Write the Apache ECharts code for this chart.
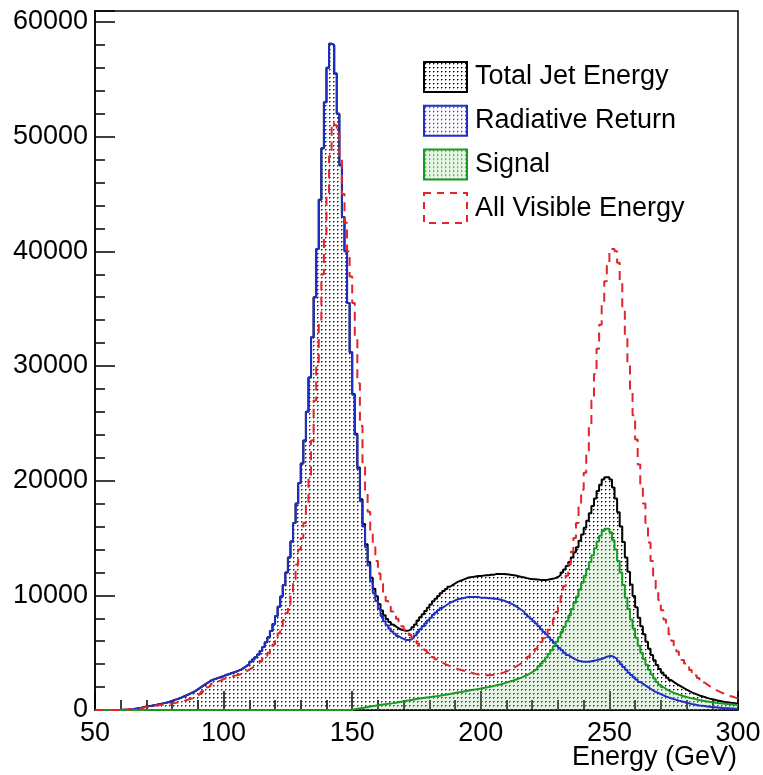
<!DOCTYPE html>
<html>
<head>
<meta charset="utf-8">
<script src="https://cdn.jsdelivr.net/npm/echarts@6/dist/echarts.min.js"></script>
<style>
  html, body { margin: 0; padding: 0; background: #fff; }
  #chart { width: 763px; height: 775px; }
</style>
</head>
<body>
<div id="chart"></div>
<script>
// 1 GeV bins from 50 to 300 GeV
var binLow = 50, binWidth = 1;

var totalJet = [
  0,0,0,0,0,0,0,0,0,0,
  20,30,40,60,80,120,160,200,250,300,
  350,380,420,450,500,550,600,650,720,800,
  880,950,1030,1120,1220,1320,1430,1540,1650,1800,
  1950,2100,2250,2400,2550,2650,2720,2800,2880,2950,
  3050,3120,3200,3280,3360,3450,3550,3700,3850,4000,
  4200,4400,4600,4850,5150,5500,5900,6350,6900,7500,
  8200,9000,9900,10900,12000,13300,14700,16300,18000,19800,
  21500,23500,26000,29000,32500,36000,40200,44500,49000,53000,
  56000,58100,58000,55500,52000,47500,43000,40000,35500,31200,
  27560,24100,21140,18380,16220,14460,12900,11540,10580,9920,
  9250,8680,8260,7940,7670,7450,7290,7130,7020,6960,
  6900,6940,7030,7220,7460,7800,8080,8360,8640,8920,
  9200,9480,9710,9940,10180,10370,10560,10750,10890,11030,
  11170,11260,11350,11440,11530,11570,11610,11650,11690,11680,
  11720,11760,11750,11800,11800,11850,11850,11850,11870,11840,
  11810,11780,11750,11700,11650,11600,11560,11500,11450,11420,
  11400,11380,11350,11330,11330,11360,11400,11450,11500,11600,
  11750,12000,12250,12550,12900,13300,13750,14200,14750,15300,
  15900,16500,17150,17800,18450,19100,19650,20100,20300,20300,
  20100,19400,18450,17250,16000,14650,13300,12050,10950,9950,
  8950,8050,7300,6600,5950,5350,4800,4330,3930,3580,
  3280,3030,2820,2620,2450,2300,2160,2030,1900,1780,
  1660,1540,1450,1360,1270,1200,1130,1060,990,940,
  890,840,790,740,700,670,640,610,580,550
];

var radReturn = [
  0,0,0,0,0,0,0,0,0,0,
  20,30,40,60,80,120,160,200,250,300,
  350,380,420,450,500,550,600,650,720,800,
  880,950,1030,1120,1220,1320,1430,1540,1650,1800,
  1950,2100,2250,2400,2550,2650,2720,2800,2880,2950,
  3050,3120,3200,3280,3360,3450,3550,3700,3850,4000,
  4200,4400,4600,4850,5150,5500,5900,6350,6900,7500,
  8200,9000,9900,10900,12000,13300,14700,16300,18000,19800,
  21500,23500,26000,29000,32500,36000,40200,44500,49000,53000,
  56000,58100,58000,55500,52000,47500,43000,40000,35500,31200,
  27500,24000,21000,18200,16000,14200,12600,11200,10200,9500,
  8800,8200,7750,7400,7100,6850,6650,6450,6300,6200,
  6100,6100,6150,6300,6500,6800,7050,7300,7550,7800,
  8050,8300,8500,8700,8900,9050,9200,9350,9450,9550,
  9650,9700,9750,9800,9850,9850,9850,9850,9850,9800,
  9800,9800,9750,9750,9700,9700,9650,9600,9550,9450,
  9350,9250,9150,9000,8850,8700,8550,8350,8150,7950,
  7750,7550,7300,7050,6800,6600,6350,6100,5850,5600,
  5400,5200,5000,4800,4650,4500,4400,4300,4250,4200,
  4200,4200,4250,4300,4350,4400,4450,4550,4650,4700,
  4700,4600,4450,4250,4000,3750,3500,3250,3050,2850,
  2650,2450,2300,2150,2000,1850,1700,1580,1480,1380,
  1280,1180,1100,1020,950,880,820,760,700,640,
  580,520,480,440,400,370,340,310,280,260,
  240,220,200,180,160,150,140,130,120,110
];

var signal = [
  0,0,0,0,0,0,0,0,0,0,
  0,0,0,0,0,0,0,0,0,0,
  0,0,0,0,0,0,0,0,0,0,
  0,0,0,0,0,0,0,0,0,0,
  0,0,0,0,0,0,0,0,0,0,
  0,0,0,0,0,0,0,0,0,0,
  0,0,0,0,0,0,0,0,0,0,
  0,0,0,0,0,0,0,0,0,0,
  0,0,0,0,0,0,0,0,0,0,
  0,0,0,0,0,0,0,0,0,0,
  60,100,140,180,220,260,300,340,380,420,
  450,480,510,540,570,600,640,680,720,760,
  800,840,880,920,960,1000,1030,1060,1090,1120,
  1150,1180,1210,1240,1280,1320,1360,1400,1440,1480,
  1520,1560,1600,1640,1680,1720,1760,1800,1840,1880,
  1920,1960,2000,2050,2100,2150,2200,2250,2320,2390,
  2460,2530,2600,2680,2760,2850,2950,3050,3170,3300,
  3450,3620,3820,4050,4300,4580,4880,5200,5550,5950,
  6350,6800,7250,7750,8250,8800,9350,9900,10500,11100,
  11700,12300,12900,13500,14100,14700,15200,15600,15800,15800,
  15500,14800,14000,13000,12000,10900,9800,8800,7900,7100,
  6300,5600,5000,4450,3950,3500,3100,2750,2450,2200,
  2000,1850,1720,1600,1500,1420,1340,1270,1200,1140,
  1080,1020,970,920,870,830,790,750,710,680,
  650,620,590,560,540,520,500,480,460,440
];

var allVisible = [
  0,0,0,0,0,0,0,0,0,0,
  20,30,40,60,80,110,140,180,220,260,
  300,330,360,390,420,450,480,510,540,560,
  600,650,700,760,820,890,960,1040,1140,1260,
  1400,1580,1780,1980,2120,2300,2400,2500,2580,2680,
  2780,2840,2900,2960,3020,3080,3140,3250,3380,3520,
  3660,3800,3950,4100,4280,4480,4720,5000,5330,5720,
  6200,6700,7250,7850,8450,9200,10200,11400,12700,14000,
  15000,16300,18000,20500,23500,27000,30000,33800,38000,41500,
  44800,48300,51200,51000,50600,48300,45000,42500,40000,37800,
  35500,32500,28500,24800,21500,19000,17300,15500,14200,13000,
  11900,11000,10200,9500,9000,8600,8250,7950,7600,7300,
  7000,6800,6550,6300,6050,5800,5550,5400,5200,5000,
  4800,4600,4420,4250,4150,4030,3930,3830,3740,3660,
  3580,3510,3450,3390,3330,3270,3210,3150,3100,3070,
  3050,3040,3040,3050,3070,3100,3140,3200,3280,3370,
  3470,3580,3700,3830,3970,4120,4280,4450,4650,4870,
  5100,5350,5620,5920,6250,6600,7000,7450,7950,8550,
  9200,9950,10800,11700,12700,13800,15000,16300,17700,19200,
  20700,22600,24800,27000,29300,31500,33600,35600,37400,39000,
  40000,40200,40000,39000,37300,35000,32700,30000,27800,25700,
  23600,21400,19700,18000,16300,14600,13000,11700,10600,9600,
  8700,7900,7200,6600,6050,5550,5100,4700,4350,4050,
  3750,3480,3230,3000,2780,2580,2400,2230,2080,1940,
  1810,1690,1580,1480,1390,1300,1220,1150,1080,1020
];

var xTicks = [50, 100, 150, 200, 250, 300];
var seriesNames = ['Total Jet Energy', 'Radiative Return', 'Signal', 'All Visible Energy'];

var colBlack = '#000000', colBlue = '#1f2ec4', colGreen = '#179a1f', colRed = '#e0262a';

function toSteps(vals) {
  var pts = [];
  for (var i = 0; i < vals.length; i++) {
    pts.push([binLow + i * binWidth, vals[i]]);
  }
  pts.push([binLow + vals.length * binWidth, vals[vals.length - 1]]);
  return pts;
}

// ROOT style dotted fill
function dotPattern(dot, bg) {
  var c = document.createElement('canvas');
  c.width = 4; c.height = 4;
  var ctx = c.getContext('2d');
  if (bg) { ctx.fillStyle = bg; ctx.fillRect(0, 0, 4, 4); }
  ctx.fillStyle = dot;
  ctx.fillRect(1, 1, 1, 1);
  ctx.globalAlpha = 0.4;
  ctx.fillRect(2, 1, 1, 1);
  ctx.fillRect(1, 2, 1, 1);
  return { image: c, repeat: 'repeat' };
}

var myChart = echarts.init(document.getElementById('chart'), null, { renderer: 'canvas' });
var font = 'Liberation Sans';

var option = {
  animation: false,
  backgroundColor: '#fff',
  grid: {
    left: 95, right: 25, top: 11, bottom: 65,
    show: true, borderColor: '#000', borderWidth: 1.5,
    outerBoundsMode: 'none'
  },
  legend: {
    orient: 'vertical',
    left: 423, top: 61, padding: 0,
    itemWidth: 43, itemHeight: 30, itemGap: 11.7,
    textStyle: { fontFamily: font, fontSize: 27, lineHeight: 30, color: '#000', padding: [0, 0, 0, 3] },
    data: [
      { name: seriesNames[0], icon: 'rect', itemStyle: { color: dotPattern(colBlack), borderColor: colBlack, borderWidth: 2 } },
      { name: seriesNames[1], icon: 'rect', itemStyle: { color: dotPattern(colBlue), borderColor: colBlue, borderWidth: 2 } },
      { name: seriesNames[2], icon: 'rect', itemStyle: { color: dotPattern(colGreen, 'rgba(120,200,120,0.18)'), borderColor: colGreen, borderWidth: 2 } },
      { name: seriesNames[3], icon: 'rect', itemStyle: { color: '#fff', borderColor: colRed, borderWidth: 2, borderType: [7, 6] } }
    ]
  },
  xAxis: {
    type: 'value',
    min: 50, max: 300, interval: 50,
    axisLine: { show: true, lineStyle: { color: '#000', width: 1.5 } },
    axisTick: { show: true, inside: true, length: 19, lineStyle: { color: '#000', width: 1.5 } },
    minorTick: { show: true, splitNumber: 5, length: 10, lineStyle: { color: '#000', width: 1.5 } },
    splitLine: { show: false },
    axisLabel: {
      margin: 10, fontFamily: font, fontSize: 27, color: '#000',
      formatter: function (v) { return xTicks.indexOf(v) >= 0 ? String(v) : ''; }
    }
  },
  yAxis: [{
    type: 'value',
    min: 0, max: 60960, interval: 10000,
    axisLine: { show: true, lineStyle: { color: '#000', width: 1.5 } },
    axisTick: { show: true, inside: true, length: 20, lineStyle: { color: '#000', width: 1.5 } },
    splitLine: { show: false },
    axisLabel: {
      margin: 7, fontFamily: font, fontSize: 27, color: '#000',
      formatter: function (v) { return v % 10000 === 0 ? String(v) : ''; }
    }
  }, {
    // minor ticks
    type: 'value', position: 'left',
    min: 0, max: 60960, interval: 2000,
    axisLine: { show: false },
    axisTick: { show: true, inside: true, length: 10, lineStyle: { color: '#000', width: 1.5 } },
    splitLine: { show: false },
    axisLabel: { show: false }
  }],
  graphic: [{
    type: 'text',
    style: { x: 737, y: 744, text: 'Energy (GeV)', align: 'right', verticalAlign: 'top', fontFamily: font, fontSize: 27, fill: '#000' }
  }],
  series: [{
    name: seriesNames[0], type: 'line', step: 'end', showSymbol: false, silent: true,
    data: toSteps(totalJet),
    lineStyle: { color: colBlack, width: 2 },
    itemStyle: { color: colBlack },
    areaStyle: { color: dotPattern(colBlack), opacity: 1 }
  }, {
    name: seriesNames[1], type: 'line', step: 'end', showSymbol: false, silent: true,
    data: toSteps(radReturn),
    lineStyle: { color: colBlue, width: 2 },
    itemStyle: { color: colBlue },
    areaStyle: { color: dotPattern(colBlue), opacity: 1 }
  }, {
    name: seriesNames[2], type: 'line', step: 'end', showSymbol: false, silent: true,
    data: toSteps(signal),
    lineStyle: { color: colGreen, width: 2 },
    itemStyle: { color: colGreen },
    areaStyle: { color: dotPattern(colGreen, 'rgba(120,200,120,0.18)'), opacity: 1 }
  }, {
    name: seriesNames[3], type: 'line', step: 'end', showSymbol: false, silent: true,
    data: toSteps(allVisible),
    lineStyle: { color: colRed, width: 2, type: [9, 6] },
    itemStyle: { color: colRed }
  }]
};
myChart.setOption(option, true);
</script>
</body>
</html>
